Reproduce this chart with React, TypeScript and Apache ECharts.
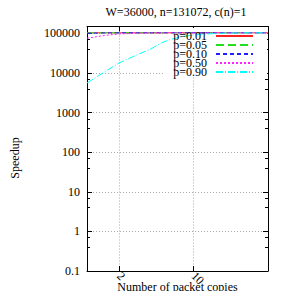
import React, { useEffect, useRef } from "react";
import * as echarts from "echarts";

const titleText = "W=36000, n=131072, c(n)=1";
const xName = "Number of packet copies";
const yName = "Speedup";
const xTickValues = [2, 10];
const copies = [1, 1.5, 2, 3, 4, 5, 6, 8, 10, 15, 20, 30, 50];
const seriesNames = ["p=0.01", "p=0.05", "p=0.10", "p=0.50", "p=0.90"];
const p001 = [104000, 104000, 104000, 104000, 104000, 104000, 104000, 104000, 104000, 104000, 104000, 104000, 104000];
const p005 = [103000, 104000, 104000, 104000, 104000, 104000, 104000, 104000, 104000, 104000, 104000, 104000, 104000];
const p010 = [101000, 103500, 104000, 104000, 104000, 104000, 104000, 104000, 104000, 104000, 104000, 104000, 104000];
const p050 = [76000, 90000, 97000, 102000, 103500, 104000, 104000, 104000, 104000, 104000, 104000, 104000, 104000];
const p090 = [5600, 11200, 18000, 29500, 41000, 58000, 70000, 84000, 92000, 99000, 102000, 103800, 104000];
const seriesValues = [p001, p005, p010, p050, p090];
const colors = ["#ff2020", "#20e020", "#2020ff", "#ff20ff", "#00ffff"];
const dashes: (string | number[])[] = ["solid", [8, 4], [4, 3], [2, 2], [7, 2, 1, 2]];

const FONT = "Liberation Serif";

export default function App() {
  const ref = useRef<HTMLDivElement>(null);
  useEffect(() => {
    const chart = echarts.init(ref.current!, null, { renderer: "svg" });
    const gridLine = { show: true, lineStyle: { color: "#aaa", type: [1, 2] as number[], width: 1 } };
    const axisLine = { show: true, onZero: false, lineStyle: { color: "#000", width: 1 } };
    const yBase = {
      type: "log" as const,
      min: 0.1,
      max: 150000,
      logBase: 10,
      splitNumber: 6,
      axisLine,
      axisTick: { show: true, inside: true, length: 5, lineStyle: { color: "#000" } },
      minorTick: { show: true, splitNumber: 3, length: 3, lineStyle: { color: "#000" } },
    };
    const xBase = {
      type: "log" as const,
      min: 1,
      max: 50,
      logBase: 10,
      axisLine,
      axisTick: { show: true, inside: true, length: 5, customValues: xTickValues, lineStyle: { color: "#000" } },
    };
    chart.setOption({
      animation: false,
      textStyle: { fontFamily: FONT },
      title: {
        text: titleText,
        left: 176,
        top: 6,
        textAlign: "center",
        padding: 0,
        textStyle: { fontFamily: FONT, fontSize: 12, fontWeight: "normal", color: "#000" },
      },
      grid: { left: 87, right: 23, top: 26.5, bottom: 20, containLabel: false, outerBoundsMode: "none" },
      legend: {
        orient: "vertical",
        right: 23,
        top: 27,
        align: "right",
        itemWidth: 37,
        itemHeight: 9,
        itemGap: -3,
        padding: [3, 14, 4, 10],
        z: 3,
        data: seriesNames,
        itemStyle: { opacity: 0 },
        textStyle: { fontFamily: FONT, fontSize: 12, color: "#000", padding: [0, 4, 0, 0] },
      },
      xAxis: [
        {
          ...xBase,
          position: "bottom",
          name: xName,
          nameLocation: "middle",
          nameGap: 10,
          nameMoveOverlap: false,
          nameTextStyle: { fontFamily: FONT, fontSize: 12, color: "#000" },
          splitLine: gridLine,
          axisLabel: {
            show: true,
            customValues: xTickValues,
            rotate: -45,
            margin: 3,
            fontFamily: FONT,
            fontSize: 12,
            color: "#000",
            formatter: (v: number) => String(Number(v.toPrecision(3))),
          },
        },
        {
          ...xBase,
          position: "top",
          splitLine: { show: false },
          axisLabel: { show: false },
        },
      ],
      yAxis: [
        {
          ...yBase,
          position: "left",
          splitLine: gridLine,
          axisLabel: {
            show: true,
            margin: 7,
            showMaxLabel: false,
            fontFamily: FONT,
            fontSize: 12,
            color: "#000",
            formatter: (v: number) => String(Number(v.toPrecision(3))),
          },
        },
        {
          ...yBase,
          position: "right",
          splitLine: { show: false },
          axisLabel: { show: false },
        },
      ],
      graphic: [
        {
          type: "rect",
          z: 1,
          silent: true,
          shape: { x: 163, y: 28, width: 104, height: 48 },
          style: { fill: "#fff" },
        },
        {
          type: "text",
          x: 15,
          y: 158,
          rotation: Math.PI / 2,
          style: { text: yName, fontFamily: FONT, fontSize: 12, fill: "#000", textAlign: "center", textVerticalAlign: "middle" },
        },
      ],
      series: seriesNames.map((name, i) => ({
        name,
        type: "line",
        xAxisIndex: 0,
        yAxisIndex: 0,
        showSymbol: false,
        symbol: "none",
        color: colors[i],
        lineStyle: { color: colors[i], width: 1, type: dashes[i] },
        data: copies.map((c, j) => [c, seriesValues[i][j]]),
        z: 2,
      })),
    });
    return () => chart.dispose();
  }, []);
  return <div ref={ref} style={{ position: "absolute", left: 0, top: 0, width: 291, height: 291 }} />;
}
